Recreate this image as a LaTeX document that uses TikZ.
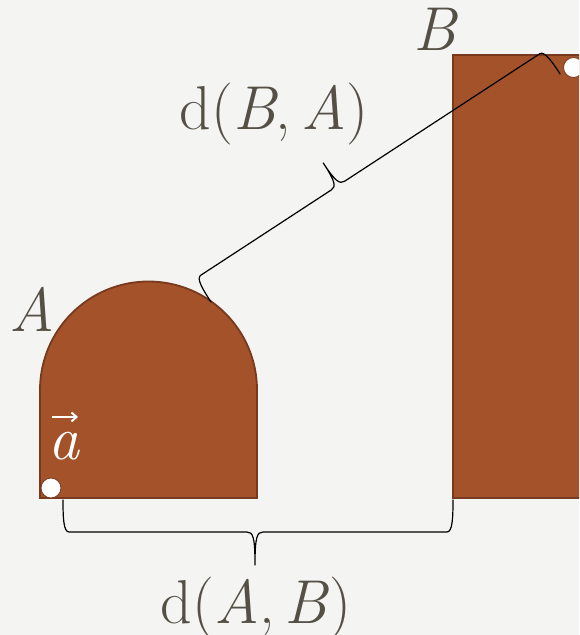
\documentclass[tikz,border=0pt]{standalone}
\usetikzlibrary{arrows.meta}
\definecolor{bgcol}{RGB}{244,244,243}
\definecolor{fillbrown}{RGB}{163,82,42}
\definecolor{edgebrown}{RGB}{120,58,28}
\definecolor{txt}{RGB}{85,80,70}
\tikzset{
  blob/.style={fill=fillbrown,draw=edgebrown,line width=1.8pt},
  dot/.style={circle,fill=white,draw=edgebrown,line width=0.8pt,minimum size=20pt,inner sep=0pt},
  lbl/.style={text=txt,font=\fontsize{62}{70}\selectfont,anchor=base,inner sep=0pt},
  bracestroke/.style={draw=black,line width=1.2pt,line join=round,line cap=round}
}
\newcommand\MyBraceShape[4]{% L, tip position, line height, tip depth
  \draw[bracestroke] (0,0) .. controls (0,{0.55*#3}) and (0.5,#3) .. (6,#3)
    -- ({#2-8},#3) .. controls ({#2-2},#3) and (#2,{#3+5}) .. (#2,#4)
    .. controls (#2,{#3+5}) and ({#2+2},#3) .. ({#2+8},#3)
    -- ({#1-6},#3) .. controls ({#1-0.5},#3) and (#1,{0.55*#3}) .. (#1,0);}
\begin{document}
\begin{tikzpicture}[x=1pt,y=1pt]
\useasboundingbox (0,0) rectangle (579,635);
\fill[bgcol] (0,0) rectangle (579,635);
% shape B (rectangle running off the right edge)
\begin{scope}
  \clip (0,0) rectangle (579,635);
  \draw[blob] (453,137) rectangle (610,580);
  \node[dot] (dotB) at (573.5,567.5) {};
\end{scope}
% shape A
\draw[blob] (40,137) -- (40,245) arc[start angle=180,end angle=0,radius=108.5] -- (257,137) -- cycle;
\node[dot] (dotA) at (51,147) {};
% labels
\node[lbl] (labA) at (32,303) {\itshape A};
\node[lbl,text height=44pt] (labB) at (435,584) {\itshape B};
\node[lbl,text=white] (veca) at (64,175) {\itshape a};
\coordinate (vs) at (52,218);
\coordinate (ve) at (78,218);
\draw[white,line width=2pt,-{Straight Barb[length=5pt,width=9pt]}] (vs) -- (ve);
\node[lbl] (dBA) at (274,505) {d(\textit{B},\,\textit{A})};
\node[lbl] (dAB) at (256,12) {d(\textit{A},\,\textit{B})};
% brace below: from A's corner to B's left side
\coordinate (bA) at (63,135);
\begin{scope}[shift={(bA)},yscale=-1]
  \MyBraceShape{390}{192}{32}{65}
\end{scope}
% slanted brace: from A's arc to B's dot
\coordinate (tA) at (211,333);
\begin{scope}[shift={(tA)},rotate=33.16]
  \MyBraceShape{417}{170}{28}{55}
\end{scope}
\end{tikzpicture}
\end{document}
